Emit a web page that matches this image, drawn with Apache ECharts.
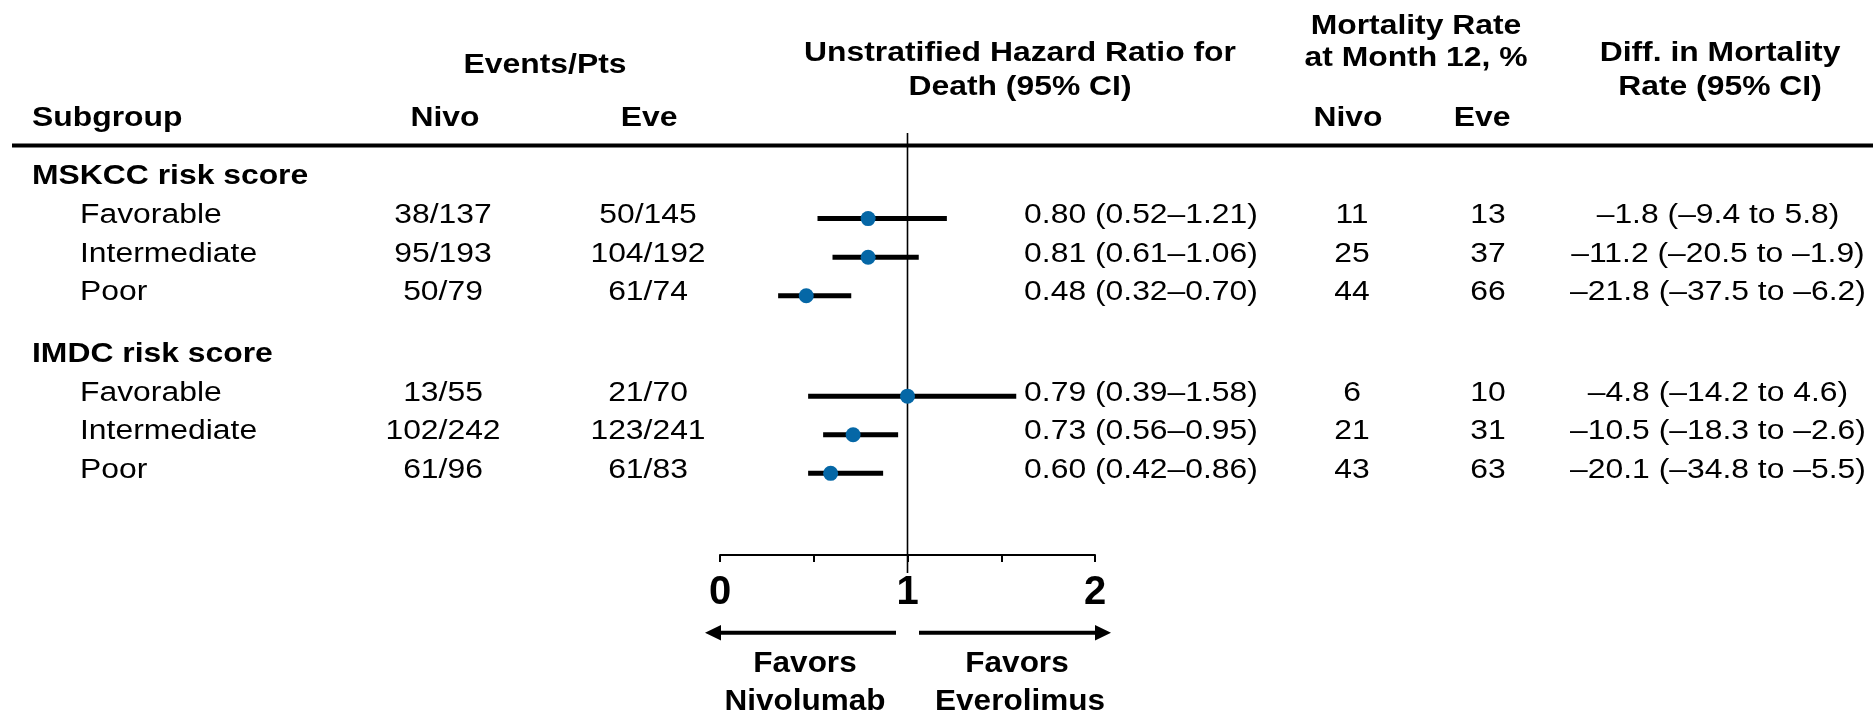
<!DOCTYPE html>
<html>
<head>
<meta charset="utf-8">
<style>
  html, body { margin: 0; padding: 0; background: #fff; }
  #chart { width: 1873px; height: 717px; }
</style>
<script src="https://cdn.jsdelivr.net/npm/echarts/dist/echarts.min.js"></script>
</head>
<body>
<div id="chart"></div>
<script>
// ---------------- DATA ----------------
const groups = ['MSKCC risk score', 'IMDC risk score'];
const subgroupLabels = ['Favorable', 'Intermediate', 'Poor', 'Favorable', 'Intermediate', 'Poor'];
const rowGroup = [0, 0, 0, 1, 1, 1];
const eventsNivo = ['38/137', '95/193', '50/79', '13/55', '102/242', '61/96'];
const eventsEve = ['50/145', '104/192', '61/74', '21/70', '123/241', '61/83'];
const hrText = ['0.80 (0.52\u20131.21)', '0.81 (0.61\u20131.06)', '0.48 (0.32\u20130.70)',
                '0.79 (0.39\u20131.58)', '0.73 (0.56\u20130.95)', '0.60 (0.42\u20130.86)'];
// plotted marks as drawn in the picture
const hrPoint = [0.79, 0.79, 0.46, 1.00, 0.71, 0.59];
const hrLow   = [0.52, 0.60, 0.31, 0.47, 0.55, 0.47];
const hrHigh  = [1.21, 1.06, 0.70, 1.58, 0.95, 0.87];
const mortNivo = [11, 25, 44, 6, 21, 43];
const mortEve  = [13, 37, 66, 10, 31, 63];
const diffText = ['\u20131.8 (\u20139.4 to 5.8)', '\u201311.2 (\u201320.5 to \u20131.9)', '\u201321.8 (\u201337.5 to \u20136.2)',
                  '\u20134.8 (\u201314.2 to 4.6)', '\u201310.5 (\u201318.3 to \u20132.6)', '\u201320.1 (\u201334.8 to \u20135.5)'];
const xTickLabels = ['0', '1', '2'];
const refValue = 1;

// ---------------- LAYOUT ----------------
const FONT = '"Liberation Sans", Arial, Helvetica, sans-serif';
const SX = 1.18;          // horizontal stretch of table text
const TXT = 27;           // table font size
const GROUP_GAP = 0.6;    // extra space between groups (in rows)
const TEXT_SHIFT = 3;     // table text sits a little above the marks
const COL = { head: 32, sub: 80, evN: 443, evE: 648, hr: 1141, moN: 1352, moE: 1488, diff: 1718 };
const Y_MIN = -1.2176, Y_MAX = 9.715;

// row positions
const groupPos = groups.map((g, gi) => gi * (4 + GROUP_GAP));
const rowPos = rowGroup.map((g, i) => groupPos[g] + 1 + (i - rowGroup.indexOf(g)));

const tableItems = [];
groups.forEach((g, gi) => tableItems.push({ kind: 'group', gi: gi, pos: groupPos[gi] }));
rowPos.forEach((p, i) => tableItems.push({ kind: 'row', i: i, pos: p }));

function txt(x, y, text, align, bold, size, sx) {
  return {
    type: 'text', x: x, y: y, scaleX: sx == null ? SX : sx,
    style: {
      text: text, fill: '#000', align: align, verticalAlign: 'middle',
      fontFamily: FONT, fontSize: size || TXT, fontWeight: bold ? 'bold' : 'normal'
    }
  };
}

const chart = echarts.init(document.getElementById('chart'), null, { renderer: 'canvas' });

const option = {
  animation: false,
  backgroundColor: '#fff',
  grid: { left: 720, right: 778, top: 133, bottom: 162, containLabel: false },
  xAxis: {
    type: 'value', min: 0, max: 2, interval: 0.5,
    axisLine: { onZero: false, lineStyle: { color: '#000', width: 2 } },
    axisTick: { length: 7, lineStyle: { color: '#000', width: 2 } },
    splitLine: { show: false },
    axisLabel: {
      margin: 18, color: '#000', fontSize: 40, fontWeight: 'bold', fontFamily: FONT,
      formatter: function (v) { return Number.isInteger(v) ? xTickLabels[v] : ''; }
    }
  },
  yAxis: { type: 'value', inverse: true, min: Y_MIN, max: Y_MAX, show: false },
  series: [
    { // reference line at HR = 1
      type: 'custom', clip: false, silent: true, z: 1,
      data: [[refValue, 0]],
      renderItem: function (params, api) {
        const top = api.coord([api.value(0), Y_MIN]);
        const bot = api.coord([api.value(0), Y_MAX]);
        return { type: 'line', shape: { x1: top[0], y1: top[1], x2: bot[0], y2: bot[1] + 18 },
                 style: { stroke: '#000', lineWidth: 1.6 } };
      }
    },
    { // confidence intervals
      type: 'custom', clip: false, silent: true, z: 2,
      data: rowPos.map((p, i) => [hrLow[i], hrHigh[i], p]),
      renderItem: function (params, api) {
        const a = api.coord([api.value(0), api.value(2)]);
        const b = api.coord([api.value(1), api.value(2)]);
        return { type: 'line', shape: { x1: a[0], y1: a[1], x2: b[0], y2: b[1] },
                 style: { stroke: '#000', lineWidth: 5 } };
      }
    },
    { // point estimates
      type: 'scatter', z: 3, silent: true,
      symbol: 'circle', symbolSize: 15,
      itemStyle: { color: '#0567a6', opacity: 1 },
      data: rowPos.map((p, i) => [hrPoint[i], p])
    },
    { // table text, positioned on the rows of the y axis
      type: 'custom', clip: false, silent: true, z: 4,
      data: tableItems.map(t => [0, t.pos]),
      renderItem: function (params, api) {
        const t = tableItems[params.dataIndex];
        const y = api.coord([0, api.value(1)])[1] - TEXT_SHIFT;
        if (t.kind === 'group') {
          return { type: 'group', children: [txt(COL.head, y, groups[t.gi], 'left', true)] };
        }
        const i = t.i;
        return {
          type: 'group', children: [
            txt(COL.sub, y, subgroupLabels[i], 'left', false),
            txt(COL.evN, y, eventsNivo[i], 'center', false),
            txt(COL.evE, y, eventsEve[i], 'center', false),
            txt(COL.hr, y, hrText[i], 'center', false),
            txt(COL.moN, y, String(mortNivo[i]), 'center', false),
            txt(COL.moE, y, String(mortEve[i]), 'center', false),
            txt(COL.diff, y, diffText[i], 'center', false)
          ]
        };
      }
    }
  ],
  graphic: [
    // header texts
    txt(545, 66, 'Events/Pts', 'center', true),
    txt(COL.head, 119, 'Subgroup', 'left', true),
    txt(445, 119, 'Nivo', 'center', true),
    txt(649, 119, 'Eve', 'center', true),
    txt(1020, 54, 'Unstratified Hazard Ratio for', 'center', true),
    txt(1020, 88, 'Death (95% CI)', 'center', true),
    txt(1416, 27, 'Mortality Rate', 'center', true),
    txt(1416, 59, 'at Month 12, %', 'center', true),
    txt(1348, 119, 'Nivo', 'center', true),
    txt(1482, 119, 'Eve', 'center', true),
    txt(1720, 54, 'Diff. in Mortality', 'center', true),
    txt(1720, 88, 'Rate (95% CI)', 'center', true),
    // header rule
    { type: 'line', shape: { x1: 12, y1: 145.5, x2: 1873, y2: 145.5 }, style: { stroke: '#000', lineWidth: 4 } },
    // arrows
    { type: 'line', shape: { x1: 896, y1: 632.7, x2: 719, y2: 632.7 }, style: { stroke: '#000', lineWidth: 4 } },
    { type: 'polygon', shape: { points: [[705, 632.7], [721, 625], [721, 640.4]] }, style: { fill: '#000' } },
    { type: 'line', shape: { x1: 919, y1: 632.7, x2: 1097, y2: 632.7 }, style: { stroke: '#000', lineWidth: 4 } },
    { type: 'polygon', shape: { points: [[1111, 632.7], [1095, 625], [1095, 640.4]] }, style: { fill: '#000' } },
    // favors labels
    txt(805, 664, 'Favors', 'center', true, 30, 1.05),
    txt(805, 702, 'Nivolumab', 'center', true, 30, 1.05),
    txt(1017, 664, 'Favors', 'center', true, 30, 1.05),
    txt(1020, 702, 'Everolimus', 'center', true, 30, 1.05)
  ]
};
chart.setOption(option);
</script>
</body>
</html>
